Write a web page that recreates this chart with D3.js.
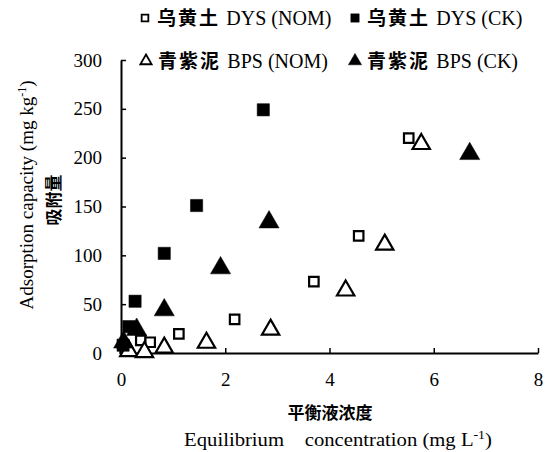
<!DOCTYPE html>
<html><head><meta charset="utf-8">
<script src="https://cdn.jsdelivr.net/npm/d3@7"></script>
<style>body{margin:0;background:#fff}</style>
</head><body>
<svg id="c" width="553" height="452"></svg>
<script>
const xTicks = [0, 2, 4, 6, 8];
const yTicks = [0, 50, 100, 150, 200, 250, 300];
const dysNOM = [[0.08,5],[0.38,13],[0.56,11],[1.11,19.5],[2.18,34.5],[3.70,73],[4.56,120],[5.52,220]];
const dysCK  = [[0.04,8],[0.15,27],[0.27,53],[0.83,102],[1.45,151],[2.73,249]];
const bpsNOM = [[0.15,3],[0.45,2],[0.83,6.5],[1.64,11.5],[2.87,25],[4.31,65],[5.06,112],[5.76,215]];
const bpsCK  = [[0.05,12],[0.3,25],[0.83,45],[1.91,88],[2.84,135],[6.69,205]];
const legendLabels = ["乌黄土 DYS (NOM)", "乌黄土 DYS (CK)", "青紫泥 BPS (NOM)", "青紫泥 BPS (CK)"];

const svg = d3.select("#c");
const x = d3.scaleLinear().domain([0, 8]).range([121, 538]);
const y = d3.scaleLinear().domain([0, 300]).range([353, 60]);
const serif = "'Liberation Serif','Times New Roman',serif";
const cjk = "'Noto Sans CJK SC',sans-serif";

// axes
const gx = svg.append("g").attr("transform", "translate(0,353)")
  .call(d3.axisBottom(x).tickValues(xTicks).tickSizeInner(-5).tickSizeOuter(0).tickPadding(20));
const gy = svg.append("g").attr("transform", "translate(121,0)")
  .call(d3.axisLeft(y).tickValues(yTicks).tickSizeInner(-5).tickSizeOuter(0).tickPadding(19));
[gx, gy].forEach(g => {
  g.select(".domain").attr("stroke", "#000").attr("stroke-width", 2);
  g.selectAll(".tick line").attr("stroke", "#000").attr("stroke-width", 1.5);
  g.selectAll(".tick text").attr("font-family", serif).attr("font-size", 19).attr("fill", "#000");
});

function drawSeries(data, type, size, filled) {
  svg.append("g").selectAll("path").data(data).join("path")
    .attr("d", d3.symbol().type(type).size(size)())
    .attr("transform", d => `translate(${x(d[0])},${y(d[1]) + (type === d3.symbolTriangle ? 1 : 0)})`)
    .attr("fill", filled ? "#000" : "#fff")
    .attr("stroke", "#000")
    .attr("stroke-width", filled ? 0.5 : 2.2);
}
drawSeries(dysNOM, d3.symbolSquare, 90, false);
drawSeries(bpsNOM, d3.symbolTriangle, 130, false);
drawSeries(dysCK, d3.symbolSquare, 150, true);
drawSeries(bpsCK, d3.symbolTriangle, 175, true);

// legend
const leg = [
  {x: 145, y: 18, t: d3.symbolSquare, f: false, s: 45, label: legendLabels[0]},
  {x: 355, y: 18, t: d3.symbolSquare, f: true, s: 70, label: legendLabels[1]},
  {x: 146, y: 61, t: d3.symbolTriangle, f: false, s: 55, label: legendLabels[2]},
  {x: 355, y: 61, t: d3.symbolTriangle, f: true, s: 75, label: legendLabels[3]}
];
leg.forEach(l => {
  svg.append("path").attr("d", d3.symbol().type(l.t).size(l.s)())
    .attr("transform", `translate(${l.x},${l.y})`)
    .attr("fill", l.f ? "#000" : "#fff").attr("stroke", "#000").attr("stroke-width", l.f ? 0.5 : 1.8);
  const parts = l.label.split(" ");
  const t = svg.append("text").attr("x", l.x + 12).attr("y", l.y + 7).attr("fill", "#000");
  t.append("tspan").attr("font-family", cjk).attr("font-weight", "bold").attr("font-size", 19)
    .attr("letter-spacing", 2).text(parts[0] + " ");
  t.append("tspan").attr("font-family", serif).attr("font-size", 20).text(parts.slice(1).join(" "));
});

// axis titles
svg.append("text").attr("x", 330).attr("y", 419).attr("text-anchor", "middle")
  .attr("font-family", cjk).attr("font-weight", "bold").attr("font-size", 17).text("平衡液浓度");
const xt = svg.append("text").attr("transform", "translate(338,446) scale(1.15,1)").attr("text-anchor", "middle")
  .attr("font-family", serif).attr("font-size", 18).attr("xml:space", "preserve");
xt.append("tspan").text("Equilibrium    concentration (mg L");
xt.append("tspan").attr("dy", -7).attr("font-size", 12).text("-1");
xt.append("tspan").attr("dy", 7).text(")");

const yt = svg.append("text").attr("transform", "translate(33,195) rotate(-90)").attr("text-anchor", "middle")
  .attr("font-family", serif).attr("font-size", 19);
yt.append("tspan").text("Adsorption capacity (mg kg");
yt.append("tspan").attr("dy", -7).attr("font-size", 12).text("-1");
yt.append("tspan").attr("dy", 7).text(")");
svg.append("text").attr("transform", "translate(60,200) rotate(-90)").attr("text-anchor", "middle")
  .attr("font-family", cjk).attr("font-weight", "bold").attr("font-size", 17).text("吸附量");
</script>
</body></html>
